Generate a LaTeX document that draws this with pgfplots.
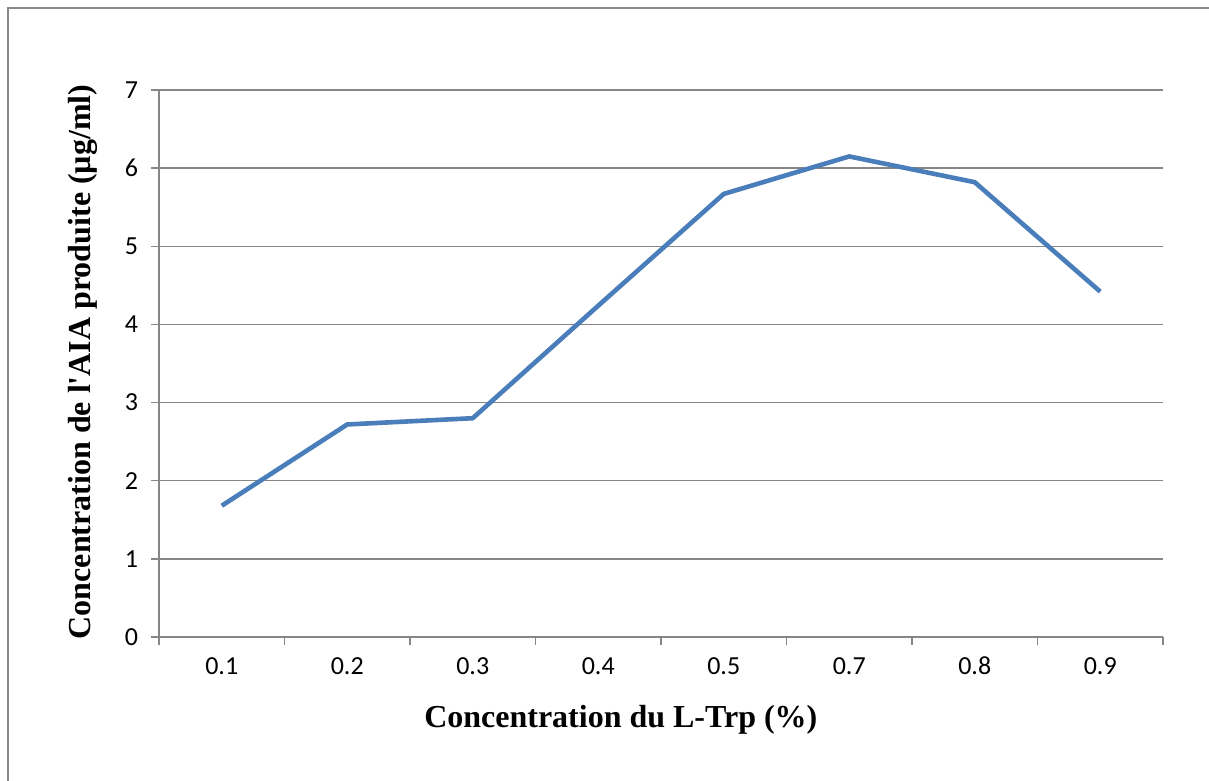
\documentclass[border=0pt]{standalone}
\usepackage{fontspec}
\setmainfont{Liberation Serif}
\newfontfamily\calibri{Carlito}
\usepackage{pgfplots}
\pgfplotsset{compat=1.18}
\definecolor{seriesblue}{HTML}{4A7EBB}
\definecolor{gridgray}{HTML}{868686}
\definecolor{framegray}{HTML}{898989}
\begin{document}
\begin{tikzpicture}
\useasboundingbox (0,0) rectangle (604.5pt,390.5pt);
\draw[framegray, line width=1pt] (4pt,0pt) -- (4pt,386.5pt) -- (604.5pt,386.5pt);
\begin{axis}[
  at={(79.5pt,72pt)}, anchor=south west,
  scale only axis, width=502pt, height=273.5pt,
  xmin=-0.5, xmax=7.5, ymin=0, ymax=7,
  axis x line*=bottom, axis y line*=left,
  axis line style={gridgray, line width=0.75pt, -},
  xtick={-0.5,0.5,...,7.5}, xticklabels={},
  extra x ticks={0,1,2,3,4,5,6,7},
  extra x tick labels={0.1,0.2,0.3,0.4,0.5,0.7,0.8,0.9},
  extra x tick style={major tick length=0pt, xmajorgrids=false},
  ytick={0,1,...,7},
  ymajorgrids,
  major grid style={gridgray, line width=0.75pt},
  tick align=outside, major tick length=4pt,
  tick style={gridgray, line width=0.75pt},
  /pgf/number format/assume math mode=true,
  tick label style={font=\calibri\fontsize{13}{13}\selectfont, text=black},
  xticklabel style={yshift=-6pt, text height=9pt, text depth=0pt},
  yticklabel style={xshift=-3pt},
  xlabel={Concentration du L-Trp (\%)},
  ylabel={Concentration de l\textquotesingle AIA produite (µg/ml)},
  label style={font=\bfseries\fontsize{16}{16}\selectfont},
  xlabel style={at={(axis description cs:0.46,-0.152)}, anchor=center},
  ylabel style={at={(axis description cs:-0.0757,0.503)}, anchor=center, rotate=0},
]
\addplot[seriesblue, line width=2.3pt, line join=round, mark=none]
  coordinates {(0,1.68) (1,2.72) (2,2.80) (3,4.24) (4,5.67) (5,6.15) (6,5.82) (7,4.42)};
\end{axis}
\end{tikzpicture}
\end{document}
